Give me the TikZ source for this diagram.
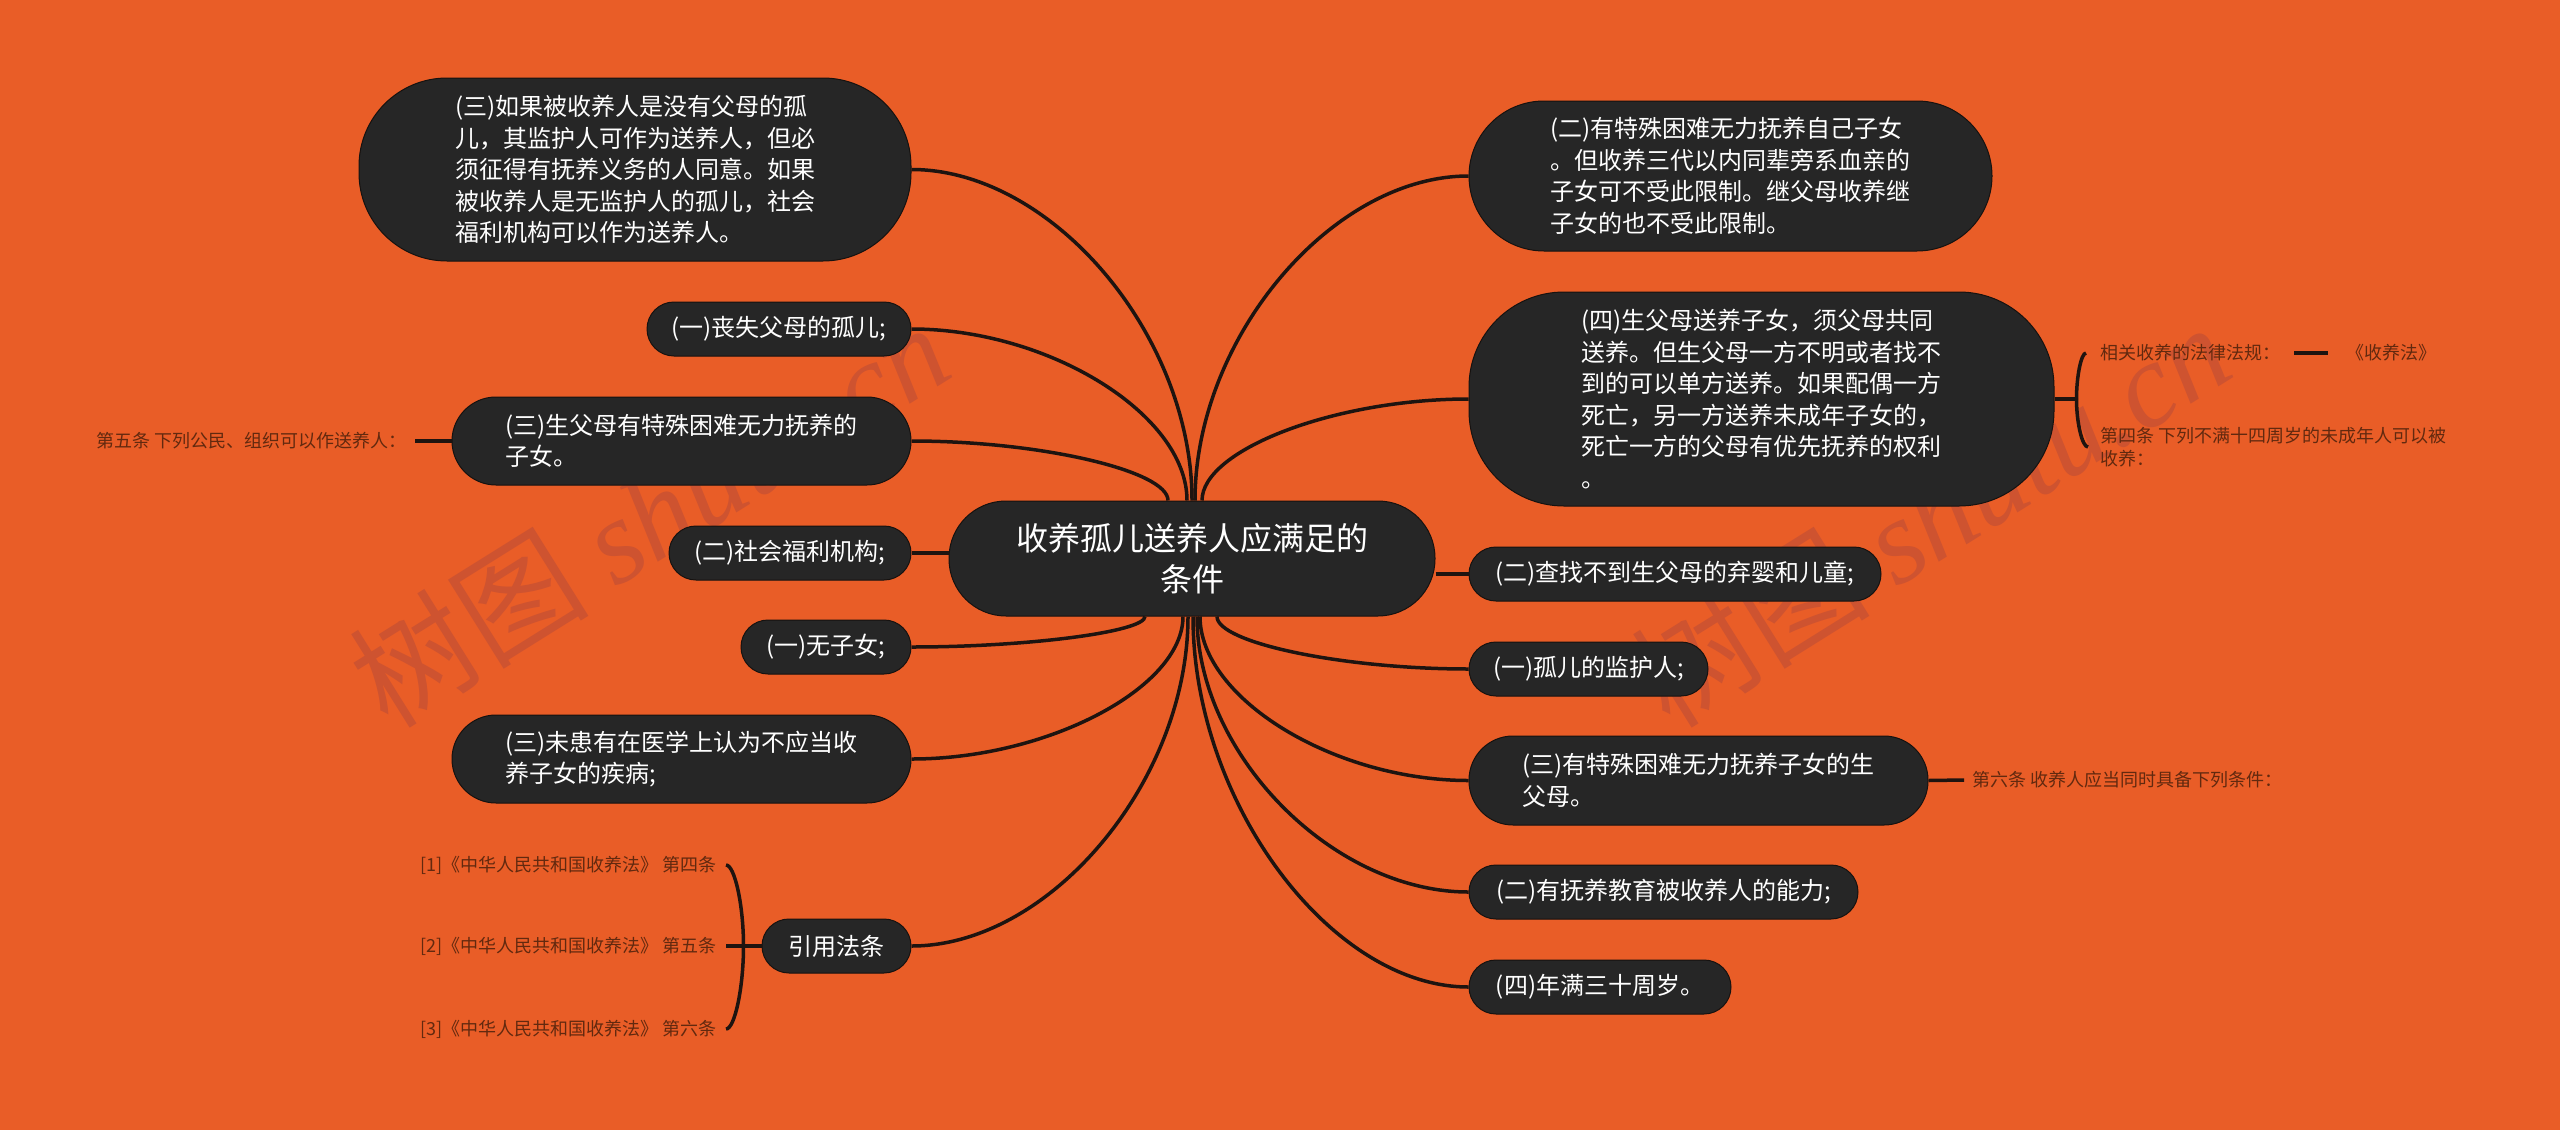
\documentclass[tikz,border=0pt]{standalone}
\usepackage{fontspec}
\setmainfont{Noto Sans CJK SC}
\newfontfamily\wmlatin{Liberation Serif}
\usetikzlibrary{calc}
\definecolor{bgc}{HTML}{E95D27}
\definecolor{nodebg}{HTML}{262626}
\definecolor{nodeedge}{HTML}{161210}
\definecolor{linkc}{HTML}{1E1410}
\definecolor{labc}{HTML}{62290F}
\definecolor{wmc}{HTML}{CE5330}
\newcommand\mmnodefont{\fontsize{24}{31.5}\selectfont}
\newcommand\mmrootfont{\fontsize{32}{41}\selectfont}
\newcommand\mmlabfont{\fontsize{18}{23}\selectfont}
\newcommand\mmlink[2]{\draw[lk] (#1) .. controls ($(#1)!0.5!(#1 |- #2)$) and ($(#2)!0.5!(#1 |- #2)$) .. (#2);}
\tikzset{
  bx/.style={fill=nodebg, draw=nodeedge, line width=1pt, text=white, font=\mmnodefont, inner sep=0pt, align=left},
  lk/.style={draw=linkc, line width=3.5pt},
  lab/.style={text=labc, font=\mmlabfont, inner sep=8pt, align=left},
  wm/.style={text=wmc, font=\fontsize{120}{120}\selectfont, inner sep=0pt, rotate=32},
}
\begin{document}
\begin{tikzpicture}[x=1pt,y=-1pt]
\useasboundingbox (0,0) rectangle (2560,1130);
\fill[bgc] (0,0) rectangle (2560,1130);
% watermarks
\node[wm] (wmL) at (649,514) {树图 {\wmlatin\itshape shutu.cn}};
\node[wm] (wmR) at (1930,514) {树图 {\wmlatin\itshape shutu.cn}};
% root
\node[bx, font=\mmrootfont, align=center, rounded corners=57, minimum width=486, minimum height=115] (root) at (1192,558.5) {收养孤儿送养人应满足的\\条件};
% left
\node[bx, rounded corners=88, minimum width=552, minimum height=183] (L1) at (635,169.5) {(三)如果被收养人是没有父母的孤\\儿，其监护人可作为送养人，但必\\须征得有抚养义务的人同意。如果\\被收养人是无监护人的孤儿，社会\\福利机构可以作为送养人。};
\node[bx, rounded corners=27, minimum width=264, minimum height=54] (L2) at (779,329) {(一)丧失父母的孤儿;};
\node[bx, rounded corners=44, minimum width=459, minimum height=88] (L3) at (681.5,441) {(三)生父母有特殊困难无力抚养的\\子女。};
\node[bx, rounded corners=27, minimum width=242, minimum height=54] (L4) at (790,553) {(二)社会福利机构;};
\node[bx, rounded corners=27, minimum width=170, minimum height=54] (L5) at (826,647) {(一)无子女;};
\node[bx, rounded corners=44, minimum width=459, minimum height=88] (L6) at (681.5,759) {(三)未患有在医学上认为不应当收\\养子女的疾病;};
\node[bx, rounded corners=27, minimum width=149, minimum height=54] (L7) at (836.5,946) {引用法条};
% right
\node[bx, rounded corners=75, minimum width=523, minimum height=150] (R1) at (1730.5,176) {(二)有特殊困难无力抚养自己子女\\。但收养三代以内同辈旁系血亲的\\子女可不受此限制。继父母收养继\\子女的也不受此限制。};
\node[bx, rounded corners=95, minimum width=585, minimum height=214] (R2) at (1761.5,399) {(四)生父母送养子女，须父母共同\\送养。但生父母一方不明或者找不\\到的可以单方送养。如果配偶一方\\死亡，另一方送养未成年子女的，\\死亡一方的父母有优先抚养的权利\\。};
\node[bx, rounded corners=27, minimum width=412, minimum height=54] (R3) at (1675,574) {(二)查找不到生父母的弃婴和儿童;};
\node[bx, rounded corners=27, minimum width=239, minimum height=54] (R4) at (1588.5,669) {(一)孤儿的监护人;};
\node[bx, rounded corners=44, minimum width=459, minimum height=89] (R5) at (1698.5,780.5) {(三)有特殊困难无力抚养子女的生\\父母。};
\node[bx, rounded corners=27, minimum width=389, minimum height=54] (R6) at (1663.5,892) {(二)有抚养教育被收养人的能力;};
\node[bx, rounded corners=27, minimum width=262, minimum height=54] (R7) at (1600,987) {(四)年满三十周岁。};
% labels
\node[lab, anchor=east] (lab5) at (415,441) {第五条 下列公民、组织可以作送养人：};
\node[lab, anchor=west, inner xsep=14pt] (lawA) at (2086,353) {相关收养的法律法规：};
\node[lab, anchor=west, inner xsep=18pt] (lawB) at (2328,353) {《收养法》};
\node[lab, anchor=west, inner xsep=12pt] (art4) at (2088,447) {第四条 下列不满十四周岁的未成年人可以被\\收养：};
\node[lab, anchor=west] (lab6) at (1964,780) {第六条 收养人应当同时具备下列条件：};
\node[lab, anchor=east, inner xsep=9pt] (ref1) at (726,865) {[1]《中华人民共和国收养法》 第四条};
\node[lab, anchor=east, inner xsep=9pt] (ref2) at (726,946) {[2]《中华人民共和国收养法》 第五条};
\node[lab, anchor=east, inner xsep=9pt] (ref3) at (726,1029) {[3]《中华人民共和国收养法》 第六条};
% entry points on root
\coordinate (tL3) at ([xshift=-24pt]root.north);
\coordinate (tL2) at ([xshift=-5pt]root.north);
\coordinate (tL1) at ([xshift=0pt]root.north);
\coordinate (tR1) at ([xshift=3pt]root.north);
\coordinate (tR2) at ([xshift=10pt]root.north);
\coordinate (bL5) at ([xshift=-47pt]root.south);
\coordinate (bL6) at ([xshift=-9pt]root.south);
\coordinate (bL7) at ([xshift=-4pt]root.south);
\coordinate (bR7) at ([xshift=1pt]root.south);
\coordinate (bR6) at ([xshift=5pt]root.south);
\coordinate (bR5) at ([xshift=8pt]root.south);
\coordinate (bR4) at ([xshift=25pt]root.south);
% connectors
\mmlink{tL1}{L1.east}
\mmlink{tL2}{L2.east}
\mmlink{tL3}{L3.east}
\mmlink{tR1}{R1.west}
\mmlink{tR2}{R2.west}
\draw[lk] (L4.east) -- (L4.east -| root.west);
\draw[lk] (root.east |- R3.west) -- (R3.west);
\mmlink{bL5}{L5.east}
\mmlink{bL6}{L6.east}
\mmlink{bL7}{L7.east}
\mmlink{bR4}{R4.west}
\mmlink{bR5}{R5.west}
\mmlink{bR6}{R6.west}
\mmlink{bR7}{R7.west}
% sub connectors
\draw[lk] (lab5.east) -- (L3.west);
\draw[lk] (R5.east) -- (lab6.west);
\coordinate (j2) at ([xshift=22pt]R2.east);
\draw[lk] (R2.east) -- (j2);
\mmlink{j2}{lawA.west}
\mmlink{j2}{art4.west}
\draw[lk] (lawA.east) -- (lawB.west);
\coordinate (j7) at ([xshift=-18pt]L7.west);
\draw[lk] (L7.west) -- (j7);
\mmlink{j7}{ref1.east}
\draw[lk] (j7) -- (ref2.east);
\mmlink{j7}{ref3.east}
\end{tikzpicture}
\end{document}
